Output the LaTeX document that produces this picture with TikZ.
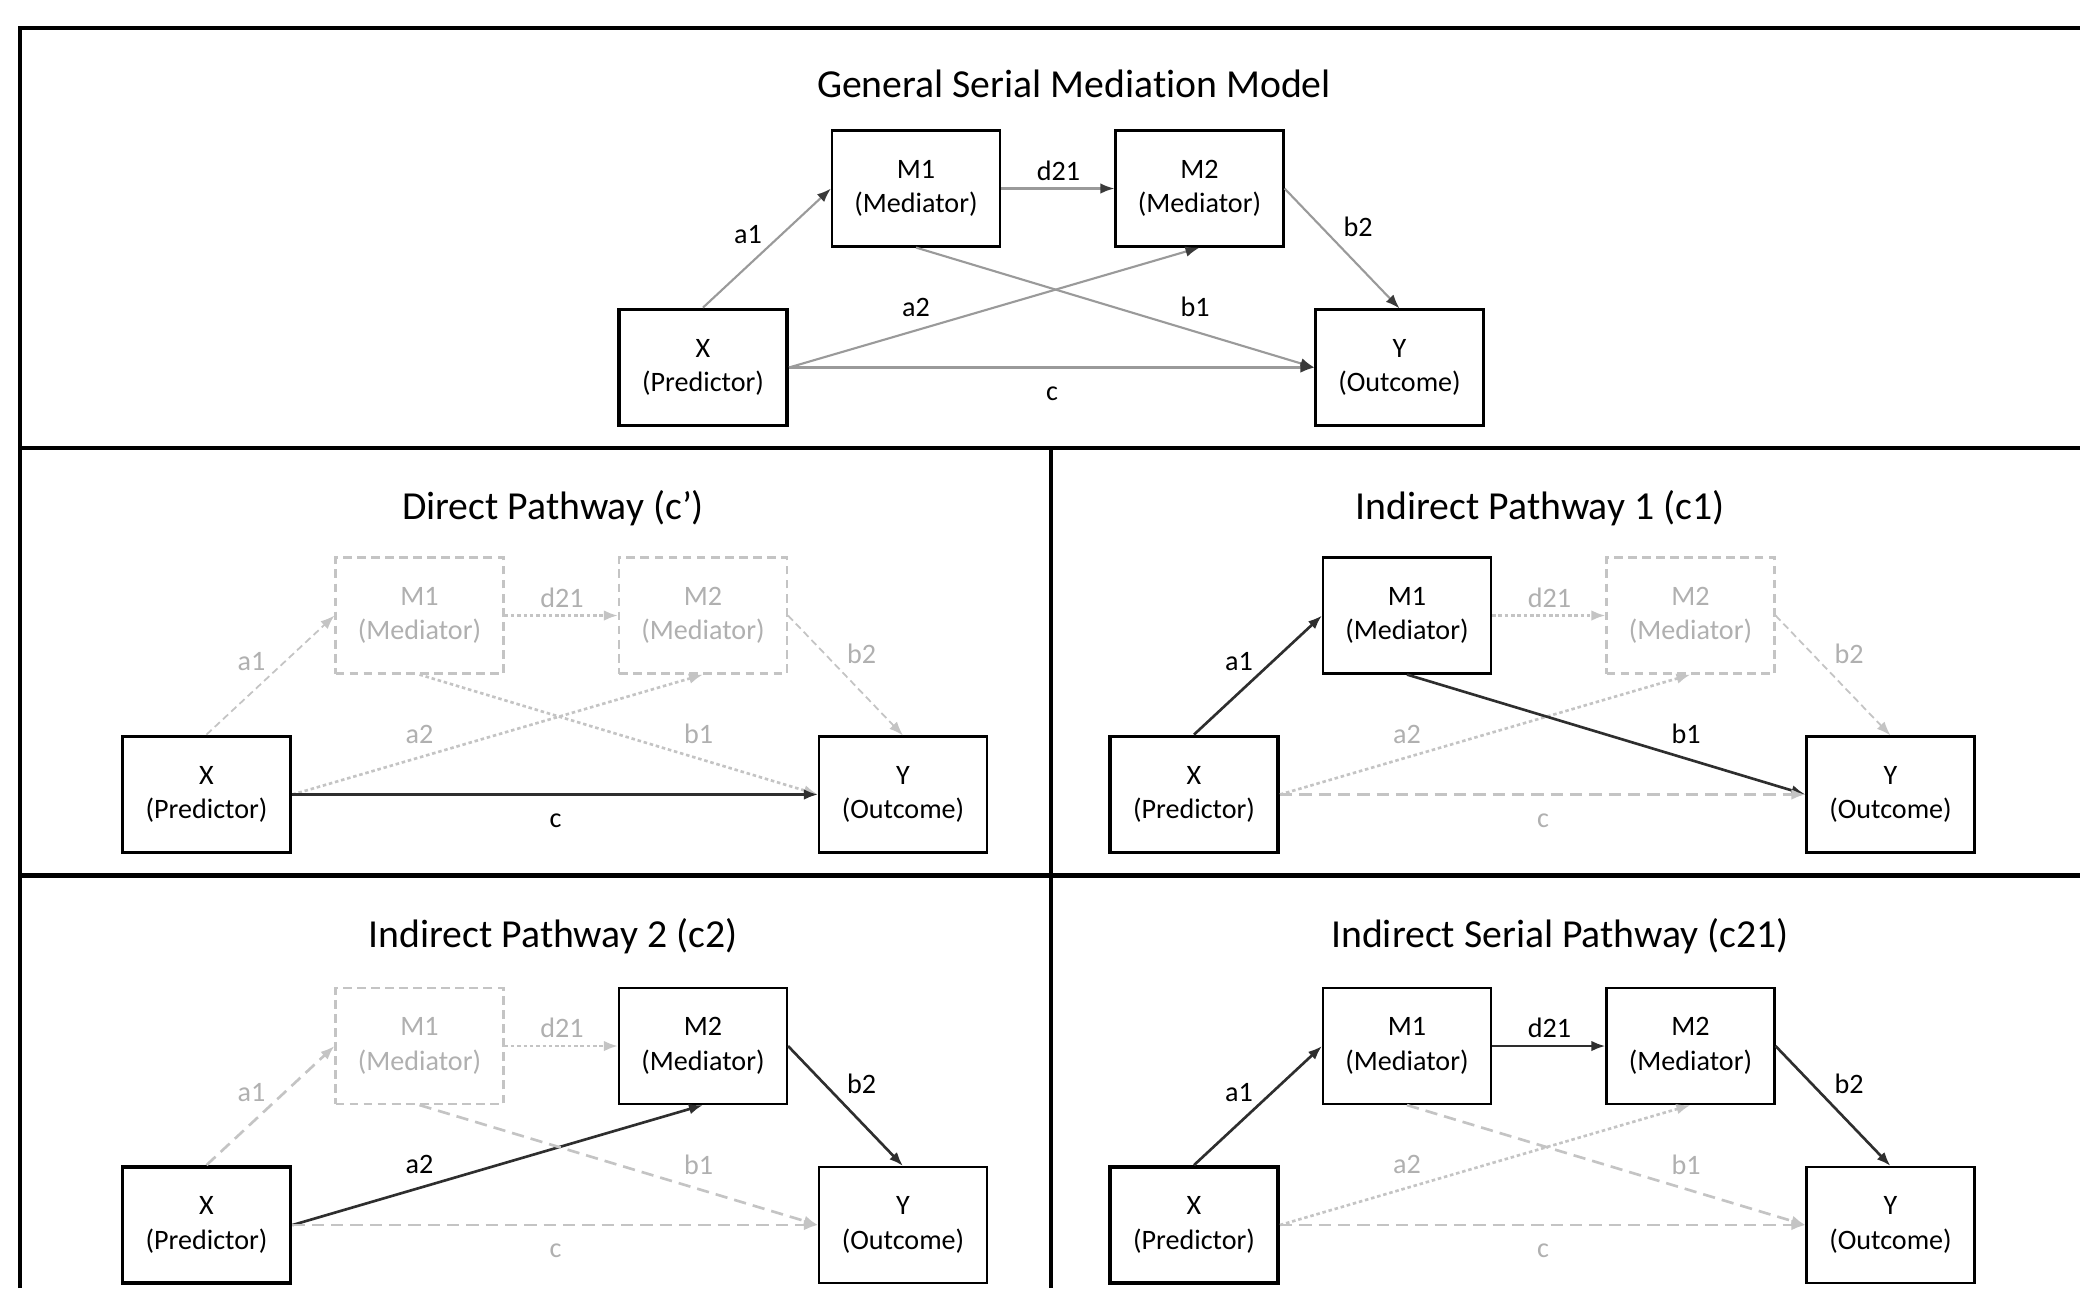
\documentclass[tikz,border=0pt]{standalone}
\usepackage{fontspec}
\setmainfont{Carlito}[Ligatures=NoCommon]
\usetikzlibrary{arrows.meta}
\definecolor{offgray}{HTML}{C4C4C4}
\definecolor{midgray}{HTML}{9A9A9A}
\definecolor{tipgray}{HTML}{3A3A3A}
\definecolor{ongray}{HTML}{2E2E2E}
\newcommand\nodefont{\fontsize{8}{9.8}\selectfont}
\newcommand\titlefont{\fontsize{11.3}{13}\selectfont}
\tikzset{
  box/.style={draw=black, line width=0.6pt, minimum width=16.8mm, minimum height=11.6mm, inner sep=0pt, align=center, font=\nodefont},
  xbox/.style={box, line width=1.1pt},
  offbox/.style={box, draw=offgray, dash pattern=on 2.5pt off 1.5pt, text=offgray!90!black},
  lab/.style={font=\nodefont, inner sep=1pt},
  offlab/.style={lab, text=offgray!90!black},
  paneltitle/.style={font=\titlefont, inner sep=0pt},
  toparrow/.style={draw=midgray, line width=0.6pt, -{Latex[length=4pt,width=3pt,color=tipgray]}},
  onarrow/.style={draw=ongray, line width=0.75pt, -{Latex[length=4pt,width=3pt]}},
  offdash/.style={draw=offgray, line width=0.75pt, dash pattern=on 3.5pt off 2pt, -{Latex[length=4pt,width=3pt]}},
  offfine/.style={draw=offgray, line width=0.5pt, dash pattern=on 2pt off 1.2pt, -{Latex[length=4pt,width=3pt]}},
  offdot/.style={draw=offgray, line width=0.75pt, dash pattern=on 1pt off 0.8pt, -{Latex[length=4pt,width=3pt]}},
  frame/.style={draw=black, line width=1.2pt}
}
\begin{document}
\begin{tikzpicture}[x=0.1mm, y=-0.1mm]
\useasboundingbox (0,0) rectangle (2080,1288);
\fill[white] (0,0) rectangle (2080,1288);
% frame
\draw[frame] (20,1288) -- (20,28) -- (2080,28);
\draw[frame] (20,448) -- (2080,448);
\draw[frame] (20,875.5) -- (2080,875.5);
\draw[frame] (1050.6,448) -- (1050.6,1288);

% ===== Top panel =====
\node[paneltitle] (tT) at (1074,84) {General Serial Mediation Model};
\begin{scope}[shift={(703,367.5)}]
\node[xbox] (tX) at (0,0) {X\\(Predictor)};
\node[box] (tM1) at (213,-179) {M1\\(Mediator)};
\node[box] (tM2) at (496.5,-179) {M2\\(Mediator)};
\node[box] (tY) at (696.5,0) {Y\\(Outcome)};
\draw[toparrow] (tX.north) -- (tM1.west);
\draw[toparrow] (tM1.east) -- (tM2.west);
\draw[toparrow] (tM2.east) -- (tY.north);
\draw[toparrow] (tX.east) -- (tM2.south);
\draw[toparrow] (tM1.south) -- (tY.west);
\draw[toparrow] (tX.east) -- (tY.west);
\node[lab] (ta1) at (45,-132.5) {a1};
\node[lab] (td21) at (355.5,-197) {d21};
\node[lab] (tb2) at (655,-141) {b2};
\node[lab] (ta2) at (213,-60.5) {a2};
\node[lab] (tb1) at (492,-60.5) {b1};
\node[lab] (tc) at (349,26) {c};
\end{scope}

% ===== Direct pathway =====
\node[paneltitle] (pT) at (553,508) {Direct Pathway (c’)};
\begin{scope}[shift={(206.5,794.5)}]
\node[xbox] (pX) at (0,0) {X\\(Predictor)};
\node[offbox] (pM1) at (213,-179) {M1\\(Mediator)};
\node[offbox] (pM2) at (496.5,-179) {M2\\(Mediator)};
\node[box] (pY) at (696.5,0) {Y\\(Outcome)};
\draw[offfine] (pX.north) -- (pM1.west);
\draw[offdot] (pM1.east) -- (pM2.west);
\draw[offfine] (pM2.east) -- (pY.north);
\draw[offdot] (pX.east) -- (pM2.south);
\draw[offdot] (pM1.south) -- (pY.west);
\draw[onarrow] (pX.east) -- (pY.west);
\node[offlab] (pa1) at (45,-132.5) {a1};
\node[offlab] (pd21) at (355.5,-197) {d21};
\node[offlab] (pb2) at (655,-141) {b2};
\node[offlab] (pa2) at (213,-60.5) {a2};
\node[offlab] (pb1) at (492,-60.5) {b1};
\node[lab] (pc) at (349,26) {c};
\end{scope}

% ===== Indirect pathway 1 =====
\node[paneltitle] (qT) at (1540,508) {Indirect Pathway 1 (c1)};
\begin{scope}[shift={(1194,794.5)}]
\node[xbox] (qX) at (0,0) {X\\(Predictor)};
\node[box] (qM1) at (213,-179) {M1\\(Mediator)};
\node[offbox] (qM2) at (496.5,-179) {M2\\(Mediator)};
\node[box] (qY) at (696.5,0) {Y\\(Outcome)};
\draw[onarrow] (qX.north) -- (qM1.west);
\draw[offdot] (qM1.east) -- (qM2.west);
\draw[offfine] (qM2.east) -- (qY.north);
\draw[offdot] (qX.east) -- (qM2.south);
\draw[onarrow] (qM1.south) -- (qY.west);
\draw[offdash] (qX.east) -- (qY.west);
\node[lab] (qa1) at (45,-132.5) {a1};
\node[offlab] (qd21) at (355.5,-197) {d21};
\node[offlab] (qb2) at (655,-141) {b2};
\node[offlab] (qa2) at (213,-60.5) {a2};
\node[lab] (qb1) at (492,-60.5) {b1};
\node[offlab] (qc) at (349,26) {c};
\end{scope}

% ===== Indirect pathway 2 =====
\node[paneltitle] (rT) at (553,936) {Indirect Pathway 2 (c2)};
\begin{scope}[shift={(206.5,1225)}]
\node[xbox] (rX) at (0,0) {X\\(Predictor)};
\node[offbox] (rM1) at (213,-179) {M1\\(Mediator)};
\node[box] (rM2) at (496.5,-179) {M2\\(Mediator)};
\node[box] (rY) at (696.5,0) {Y\\(Outcome)};
\draw[offdash] (rX.north) -- (rM1.west);
\draw[offdot] (rM1.east) -- (rM2.west);
\draw[onarrow] (rM2.east) -- (rY.north);
\draw[onarrow] (rX.east) -- (rM2.south);
\draw[offdash] (rM1.south) -- (rY.west);
\draw[offdash] (rX.east) -- (rY.west);
\node[offlab] (ra1) at (45,-132.5) {a1};
\node[offlab] (rd21) at (355.5,-197) {d21};
\node[lab] (rb2) at (655,-141) {b2};
\node[lab] (ra2) at (213,-60.5) {a2};
\node[offlab] (rb1) at (492,-60.5) {b1};
\node[offlab] (rc) at (349,26) {c};
\end{scope}

% ===== Indirect serial pathway =====
\node[paneltitle] (sT) at (1560,936) {Indirect Serial Pathway (c21)};
\begin{scope}[shift={(1194,1225)}]
\node[xbox] (sX) at (0,0) {X\\(Predictor)};
\node[box] (sM1) at (213,-179) {M1\\(Mediator)};
\node[box] (sM2) at (496.5,-179) {M2\\(Mediator)};
\node[box] (sY) at (696.5,0) {Y\\(Outcome)};
\draw[onarrow] (sX.north) -- (sM1.west);
\draw[onarrow] (sM1.east) -- (sM2.west);
\draw[onarrow] (sM2.east) -- (sY.north);
\draw[offdot] (sX.east) -- (sM2.south);
\draw[offdash] (sM1.south) -- (sY.west);
\draw[offdash] (sX.east) -- (sY.west);
\node[lab] (sa1) at (45,-132.5) {a1};
\node[lab] (sd21) at (355.5,-197) {d21};
\node[lab] (sb2) at (655,-141) {b2};
\node[offlab] (sa2) at (213,-60.5) {a2};
\node[offlab] (sb1) at (492,-60.5) {b1};
\node[offlab] (sc) at (349,26) {c};
\end{scope}
\end{tikzpicture}
\end{document}
